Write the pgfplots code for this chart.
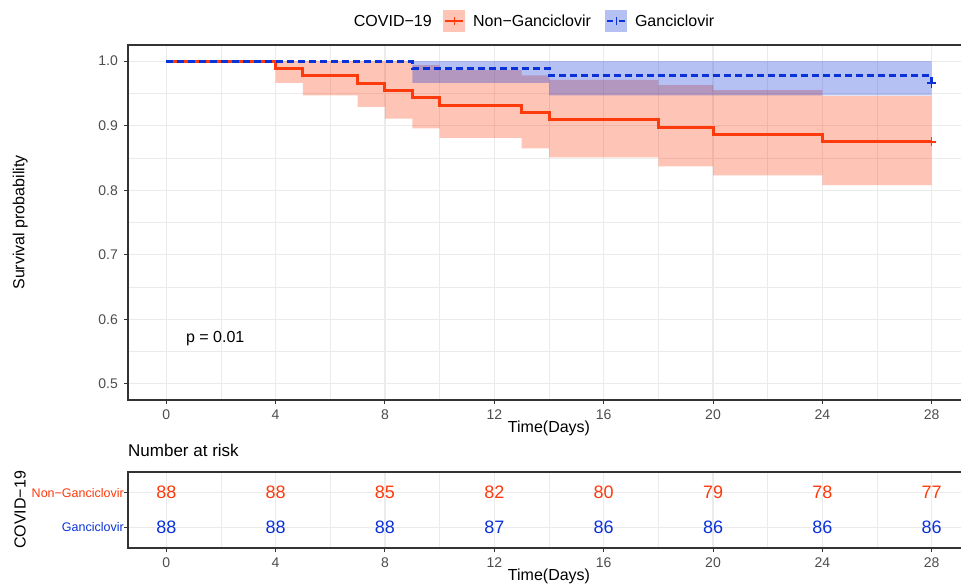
\documentclass[border=0pt]{standalone}
\usepackage{fontspec}
\setmainfont{Liberation Sans}
\usepackage{pgfplots}
\pgfplotsset{compat=1.18}
\usepgfplotslibrary{fillbetween}
\definecolor{nred}{HTML}{FC3A0C}
\definecolor{gblue}{HTML}{0A32D8}
\definecolor{gridc}{HTML}{EBEBEB}
\definecolor{framec}{HTML}{333333}
\definecolor{tickc}{HTML}{4D4D4D}

\pgfplotsset{
  kmbase/.style={
    scale only axis, width=842pt,
    xmin=-1.4, xmax=29.4,
    xtick={0,4,8,12,16,20,24,28},
    minor xtick={2,6,10,14,18,22,26},
    grid=both,
    major grid style={draw=gridc, line width=1.1pt},
    minor grid style={draw=gridc, line width=0.55pt},
    axis line style={draw=framec, line width=1.2pt},
    tick align=outside,
    major tick length=4pt, minor tick length=0pt,
    every tick/.style={draw=framec, line width=1pt},
    xtick pos=left, ytick pos=left,
    /pgf/number format/assume math mode=true,
    tick label style={font=\fontsize{14}{16}\selectfont, color=tickc},
    x tick label style={anchor=north, inner sep=0pt, yshift=-6pt},
    label style={font=\fontsize{16}{18}\selectfont},
    clip mode=individual,
  }
}

\begin{document}
\begin{tikzpicture}
% main survival panel
\begin{axis}[kmbase,
  at={(128pt,187pt)}, anchor=south west, height=355pt,
  ymin=0.475, ymax=1.025,
  ytick={0.5,0.6,0.7,0.8,0.9,1.0},
  minor ytick={0.55,0.65,0.75,0.85,0.95},
  y tick label style={anchor=east, inner sep=0pt, xshift=-6pt,
    /pgf/number format/.cd, fixed, fixed zerofill, precision=1, /tikz/.cd},
  xlabel={Time(Days)}, ylabel={Survival probability},
  xlabel style={at={(axis description cs:0.5,-0.079)}, anchor=center, inner sep=0pt},
  ylabel style={at={(axis description cs:-0.128,0.5)}, anchor=center, inner sep=0pt},
  legend columns=2,
  legend style={at={(axis description cs:0.3741,1.0676)}, anchor=west,
    draw=none, fill=none, inner sep=0pt, font=\fontsize{16}{18}\selectfont,
    nodes={inner sep=0pt},
    /tikz/every odd column/.append style={column sep=8pt},
    /tikz/every even column/.append style={column sep=14pt}},
]
% confidence bands
\addplot[name path=rU, const plot, draw=none, forget plot] coordinates {
  (0,1) (4,1) (5,1) (7,1) (8,1) (9,0.994) (10,0.986) (13,0.978)
  (14,0.971) (18,0.963) (20,0.955) (24,0.946) (28,0.946)};
\addplot[name path=rL, const plot, draw=none, forget plot] coordinates {
  (0,1) (4,0.9665) (5,0.947) (7,0.929) (8,0.911) (9,0.896) (10,0.881)
  (13,0.865) (14,0.851) (18,0.837) (20,0.823) (24,0.808) (28,0.808)};
\addplot[fill=nred, fill opacity=0.3, draw=none, forget plot] fill between[of=rU and rL];
\addplot[name path=gU, const plot, draw=none, forget plot] coordinates {
  (0,1) (28,1)};
\addplot[name path=gL, const plot, draw=none, forget plot] coordinates {
  (0,1) (9,0.9665) (14,0.947) (28,0.947)};
\addplot[fill=gblue, fill opacity=0.3, draw=none, forget plot] fill between[of=gU and gL];

% survival curves
\addplot[const plot, nred, line width=3pt,
  legend image code/.code={
    \fill[nred, fill opacity=0.3, draw=none, solid] (0pt,-11pt) rectangle (22pt,11pt);
    \draw[nred, line width=2pt, solid] (2pt,0pt) -- (20pt,0pt);
    \draw[nred, line width=1pt, solid] (11pt,-4pt) -- (11pt,4pt);}]
  coordinates {
  (0,1) (4,0.9886) (5,0.9773) (7,0.9659) (8,0.9545) (9,0.9432) (10,0.9318)
  (13,0.9205) (14,0.9091) (18,0.8977) (20,0.8864) (24,0.875) (28,0.875)};
\addlegendentry{Non−Ganciclovir}
\addplot[const plot, gblue, line width=3pt, dash pattern=on 7pt off 4pt,
  legend image code/.code={
    \fill[gblue, fill opacity=0.3, draw=none, solid] (0pt,-11pt) rectangle (22pt,11pt);
    \draw[gblue, solid, line width=2pt] (2pt,0pt) -- (8pt,0pt);
    \draw[gblue, solid, line width=2pt] (14pt,0pt) -- (20pt,0pt);
    \draw[gblue, solid, line width=1pt] (11pt,-4pt) -- (11pt,4pt);}]
  coordinates {
  (0,1) (9,0.9886) (14,0.9773) (28,0.9659)};
\addlegendentry{Ganciclovir}

% censoring marks
\addplot[only marks, mark=+, nred, mark size=4.5pt, line width=1.5pt, forget plot]
  coordinates {(28,0.875)};
\addplot[only marks, mark=+, gblue, mark size=4.5pt, line width=1.5pt, forget plot]
  coordinates {(28,0.9659)};

\node[font=\fontsize{16}{18}\selectfont, inner sep=0pt] at (axis cs:1.79,0.570) {p = 0.01};
\node[font=\fontsize{16}{18}\selectfont, inner sep=0pt, anchor=east]
  at (axis description cs:0.361,1.0676) {COVID−19};
\end{axis}

% number at risk table
\begin{axis}[kmbase,
  at={(128pt,39pt)}, anchor=south west, height=76pt,
  ymin=0.4, ymax=2.6,
  ytick={1,2},
  yticklabels={{\color{gblue}Ganciclovir},{\color{nred}Non−Ganciclovir}},
  y tick label style={font=\fontsize{12.5}{14}\selectfont, anchor=east, inner sep=0pt, xshift=0pt},
  xlabel={Time(Days)}, ylabel={COVID−19},
  xlabel style={at={(axis description cs:0.5,-0.368)}, anchor=center, inner sep=0pt},
  ylabel style={at={(axis description cs:-0.128,0.5)}, anchor=center, inner sep=0pt},
  title={Number at risk},
  title style={at={(axis description cs:0,1.21)}, anchor=west, inner sep=0pt,
    font=\fontsize{17}{19}\selectfont},
]
\addplot[draw=none, nodes near coords, point meta=explicit symbolic,
  nodes near coords align={center},
  every node near coord/.append style={color=nred, font=\fontsize{18}{20}\selectfont, inner sep=0pt}]
  table[meta=n] {
x y n
0 2 88
4 2 88
8 2 85
12 2 82
16 2 80
20 2 79
24 2 78
28 2 77
};
\addplot[draw=none, nodes near coords, point meta=explicit symbolic,
  nodes near coords align={center},
  every node near coord/.append style={color=gblue, font=\fontsize{18}{20}\selectfont, inner sep=0pt}]
  table[meta=n] {
x y n
0 1 88
4 1 88
8 1 88
12 1 87
16 1 86
20 1 86
24 1 86
28 1 86
};
\end{axis}

\pgfresetboundingbox
\path[use as bounding box] (0pt,0pt) rectangle (961pt,587pt);
\end{tikzpicture}
\end{document}
